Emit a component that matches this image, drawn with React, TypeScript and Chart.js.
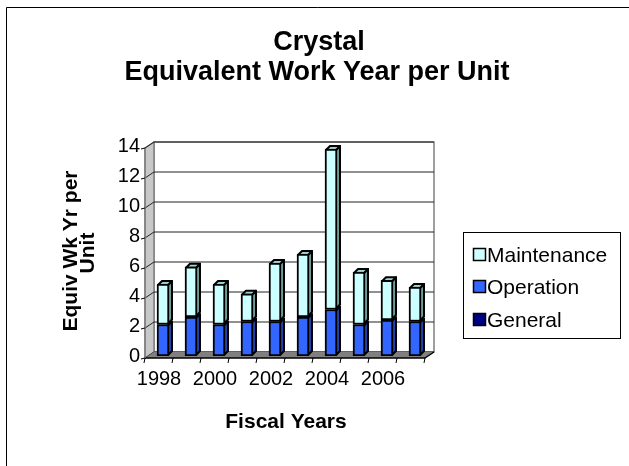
import React, { useEffect, useRef } from 'react';
import { Chart, registerables } from 'chart.js';

Chart.register(...registerables);

// ---- data ----
const fiscalYears = ['1998', '1999', '2000', '2001', '2002', '2003', '2004', '2005', '2006', '2007'];
const maintenance = [2.7, 3.35, 2.7, 1.85, 3.9, 4.2, 10.7, 3.5, 2.65, 2.3];
const operation = [2.1, 2.6, 2.1, 2.3, 2.3, 2.6, 3.1, 2.1, 2.4, 2.3];
const general = [0, 0, 0, 0, 0, 0, 0, 0, 0, 0];
const yMax = 14;
const yStep = 2;
const titleLines = ['Crystal', 'Equivalent Work Year per Unit'];
const yTitleLines = ['Equiv Wk Yr per', 'Unit'];
const xTitle = 'Fiscal Years';

// ---- styles ----
const FONT = '"Liberation Sans", Arial, sans-serif';
const COLORS = {
  maintenance: { front: '#CCFFFF', side: '#6E9C9C', top: '#A3D1D1' },
  operation: { front: '#3366FF', side: '#2143A8', top: '#2950CC' },
  general: { front: '#000080', side: '#000050', top: '#000066' },
};
const FRONT = { dx: -4, dy: 2 };
const BACK = { dx: 5, dy: -4 };
const BAR_D = 4;

type P = [number, number];

function poly(ctx: CanvasRenderingContext2D, pts: P[], fill?: string, stroke?: string, lw = 1) {
  ctx.beginPath();
  ctx.moveTo(pts[0][0], pts[0][1]);
  for (let i = 1; i < pts.length; i++) ctx.lineTo(pts[i][0], pts[i][1]);
  ctx.closePath();
  if (fill) {
    ctx.fillStyle = fill;
    ctx.fill();
  }
  if (stroke) {
    ctx.strokeStyle = stroke;
    ctx.lineWidth = lw;
    ctx.lineJoin = 'round';
    ctx.stroke();
  }
}

function line(ctx: CanvasRenderingContext2D, pts: P[], stroke: string, lw = 1) {
  ctx.beginPath();
  ctx.moveTo(pts[0][0], pts[0][1]);
  for (let i = 1; i < pts.length; i++) ctx.lineTo(pts[i][0], pts[i][1]);
  ctx.strokeStyle = stroke;
  ctx.lineWidth = lw;
  ctx.stroke();
}

const excelPlugin = {
  id: 'excel3d',
  beforeDraw(chart: any) {
    const ctx: CanvasRenderingContext2D = chart.ctx;
    ctx.save();
    ctx.fillStyle = '#ffffff';
    ctx.fillRect(0, 0, chart.width, chart.height);
    // outer frame (only left and top visible)
    line(ctx, [[6.5, chart.height], [6.5, 7.5], [chart.width, 7.5]], '#000', 1);

    ctx.fillStyle = '#000';
    // main title
    ctx.font = `bold 27px ${FONT}`;
    ctx.textAlign = 'center';
    ctx.textBaseline = 'alphabetic';
    ctx.fillText(titleLines[0], 319, 50);
    ctx.fillText(titleLines[1], 317, 80);

    // y title
    ctx.save();
    ctx.translate(0, 251);
    ctx.rotate(-Math.PI / 2);
    ctx.font = `bold 21px ${FONT}`;
    ctx.textAlign = 'center';
    ctx.fillText(yTitleLines[0], 0, 77);
    ctx.fillText(yTitleLines[1], -2, 94);
    ctx.restore();

    // x title
    ctx.font = `bold 21px ${FONT}`;
    ctx.textAlign = 'center';
    ctx.fillText(xTitle, 286, 428);

    // legend
    const lx = 463.5, ly = 232.5, lw = 157, lh = 106;
    ctx.fillStyle = '#fff';
    ctx.fillRect(lx, ly, lw, lh);
    ctx.strokeStyle = '#000';
    ctx.lineWidth = 1;
    ctx.strokeRect(lx, ly, lw, lh);
    const rows = [255, 287, 320];
    const ds = [...chart.data.datasets].reverse();
    ds.forEach((d: any, i: number) => {
      const cy = rows[i];
      ctx.fillStyle = d.backgroundColor;
      ctx.fillRect(473.5, cy - 6.5, 12, 12);
      ctx.strokeStyle = '#000';
      ctx.lineWidth = 1.5;
      ctx.strokeRect(473.5, cy - 6.5, 12, 12);
      ctx.fillStyle = '#000';
      ctx.font = `21px ${FONT}`;
      ctx.textAlign = 'left';
      ctx.textBaseline = 'middle';
      ctx.fillText(d.label, 487, cy + 1);
    });
    ctx.restore();
  },
  beforeDatasetsDraw(chart: any) {
    const ctx: CanvasRenderingContext2D = chart.ctx;
    const area = chart.chartArea;
    const ys = chart.scales.y;
    const L = area.left, R = area.right;
    const f = (x: number, y: number): P => [x + FRONT.dx, y + FRONT.dy];
    const b = (x: number, y: number): P => [x + BACK.dx, y + BACK.dy];
    const y0 = ys.getPixelForValue(0);
    const yT = ys.getPixelForValue(ys.max);
    ctx.save();
    // back wall
    poly(ctx, [b(L, yT), b(R, yT), b(R, y0), b(L, y0)], '#ffffff', '#808080', 1.5);
    // left wall
    poly(ctx, [f(L, yT), b(L, yT), b(L, y0), f(L, y0)], '#c8c8c8', '#808080', 1.5);
    // gridlines
    ys.ticks.forEach((t: any) => {
      const y = ys.getPixelForValue(t.value);
      line(ctx, [f(L, y), b(L, y), b(R, y)], '#222', 1);
    });
    // floor
    poly(ctx, [f(L, y0), f(R, y0), b(R, y0), b(L, y0)], '#808080');
    line(ctx, [f(L, y0), f(R, y0), b(R, y0)], '#000', 1.5);
    // y axis front edge + tick marks
    line(ctx, [f(L, yT), f(L, y0)], '#808080', 1.5);
    ys.ticks.forEach((t: any) => {
      const y = ys.getPixelForValue(t.value);
      const p = f(L, y);
      line(ctx, [[p[0] - 4, p[1] + 1], p], '#000', 1);
    });
    // x tick marks
    const n = chart.data.labels.length;
    for (let i = 0; i <= n; i++) {
      const x = L + (i * (R - L)) / n;
      const p = f(x, y0);
      line(ctx, [p, [p[0] - 1, p[1] + 5]], '#000', 1);
    }
    // bar sides and caps
    const nd = chart.data.datasets.length;
    for (let i = 0; i < n; i++) {
      let topIdx = -1;
      for (let d = 0; d < nd; d++) if (chart.data.datasets[d].data[i] > 0) topIdx = d;
      for (let d = 0; d < nd; d++) {
        const v = chart.data.datasets[d].data[i];
        if (!(v > 0)) continue;
        const el = chart.getDatasetMeta(d).data[i];
        const { x, y, base, width } = el.getProps(['x', 'y', 'base', 'width'], true);
        const c = chart.data.datasets[d].faceColors;
        const right = x + width / 2 - 1;
        const left = x - width / 2 + 1;
        const top = Math.min(y, base) + 1;
        const bot = Math.max(y, base) - 1;
        poly(ctx, [[right, top], [right + BAR_D, top - BAR_D], [right + BAR_D, bot - BAR_D], [right, bot]], c.side, '#000', 2);
        if (d === topIdx) {
          poly(ctx, [[left, top], [left + BAR_D, top - BAR_D], [right + BAR_D, top - BAR_D], [right, top]], c.top, '#000', 2);
        }
      }
    }
    ctx.restore();
  },
};

export default function App() {
  const ref = useRef<HTMLCanvasElement | null>(null);
  useEffect(() => {
    if (!ref.current) return;
    Chart.defaults.font.family = FONT;
    const chart = new Chart(ref.current, {
      type: 'bar',
      data: {
        labels: fiscalYears,
        datasets: [
          { label: 'General', data: general, backgroundColor: COLORS.general.front, faceColors: COLORS.general } as any,
          { label: 'Operation', data: operation, backgroundColor: COLORS.operation.front, faceColors: COLORS.operation } as any,
          { label: 'Maintenance', data: maintenance, backgroundColor: COLORS.maintenance.front, faceColors: COLORS.maintenance } as any,
        ].map((d) => ({ ...d, borderColor: '#000', borderWidth: 2, borderSkipped: false, barThickness: 12 })),
      },
      options: {
        responsive: false,
        animation: false,
        layout: { padding: { left: 109, right: 200, top: 146, bottom: 70 } },
        plugins: { legend: { display: false }, title: { display: false }, tooltip: { enabled: false } },
        scales: {
          x: {
            stacked: true,
            grid: { display: false, drawTicks: false },
            border: { display: false },
            ticks: {
              color: '#000',
              font: { size: 20, family: FONT },
              padding: 11,
              labelOffset: -4,
              autoSkip: false,
              maxRotation: 0,
              callback: (_v: any, idx: number) => (idx % 2 === 0 ? fiscalYears[idx] : ''),
            },
            afterFit: (s: any) => {
              s.height = 40;
            },
          },
          y: {
            stacked: true,
            min: 0,
            max: yMax,
            grid: { display: false, drawTicks: false },
            border: { display: false },
            ticks: { stepSize: yStep, color: '#000', font: { size: 20, family: FONT }, padding: 9 },
            afterFit: (s: any) => {
              s.width = 40;
            },
          },
        },
      } as any,
      plugins: [excelPlugin],
    });
    return () => chart.destroy();
  }, []);
  return (
    <div style={{ position: 'absolute', left: 0, top: 0, width: 629, height: 466 }}>
      <canvas ref={ref} width={629} height={466} style={{ display: 'block' }} />
    </div>
  );
}
